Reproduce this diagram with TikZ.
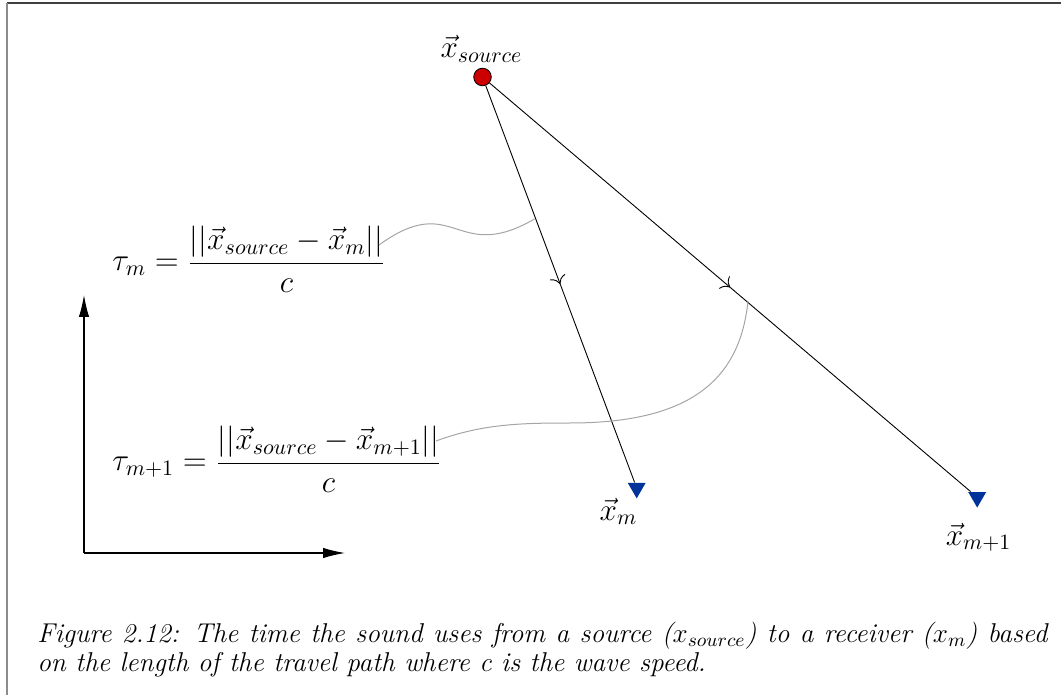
\documentclass[tikz,border=0pt]{standalone}
\usepackage{fix-cm}
\usetikzlibrary{arrows.meta,shapes.geometric,decorations.markings}
\definecolor{srcred}{RGB}{204,0,0}
\definecolor{recblue}{RGB}{0,51,153}
\definecolor{curvegray}{RGB}{165,165,165}
\tikzset{
  srcnode/.style={circle, draw=black, line width=0.4pt, fill=srcred, minimum size=8.8pt, inner sep=0pt},
  recnode/.style={regular polygon, regular polygon sides=3, shape border rotate=180, fill=recblue, minimum size=10.4pt, inner sep=0pt},
  ray/.style={draw=black, line width=0.45pt, postaction={decorate},
    decoration={markings, mark=at position 0.5 with {\arrow{To[scale=1.5]}}}},
  lead/.style={draw=curvegray, line width=0.5pt},
  axisline/.style={draw=black, line width=0.55pt, -{Latex[length=11pt,width=5.2pt]}},
  mathlbl/.style={inner sep=0pt, font=\fontsize{15.6}{18}\selectfont},
  eqtxt/.style={inner sep=0pt, anchor=base west, font=\fontsize{15.7}{18}\selectfont},
  captxt/.style={inner sep=0pt, anchor=base west, font=\fontsize{13.6}{16}\selectfont\itshape}
}
\begin{document}
\begin{tikzpicture}[x=0.5pt,y=-0.5pt]
\useasboundingbox (0,0) rectangle (1061,695);
% page frame
\draw[draw=black!75, line width=0.75pt] (7,3) -- (1061,3);
\draw[draw=black!45, line width=0.6pt] (7,3) -- (7,695);

% source and receivers
\node[srcnode] (src) at (482.5,77) {};
\node[recnode] (rm) at (636.7,488) {};
\node[recnode] (rm1) at (977.2,497.2) {};

\node[mathlbl, anchor=base] (lsrc) at (481.5,58) {$\vec{x}_{source}$};
\node[mathlbl, anchor=base] (lm) at (618.5,520) {$\vec{x}_m$};
\node[mathlbl, anchor=base] (lm1) at (978.5,545) {$\vec{x}_{m+1}$};

% rays
\draw[ray] (src) -- (rm);
\draw[ray] (src) -- (rm1);

% equations
\node[eqtxt] (eqm) at (112,271)
  {$\displaystyle \tau_m = \frac{||\vec{x}_{source}-\vec{x}_m||}{c}$};
\node[eqtxt] (eqm1) at (112,471)
  {$\displaystyle \tau_{m+1} = \frac{||\vec{x}_{source}-\vec{x}_{m+1}||}{c}$};

% leader curves
\coordinate (a1) at (379,245);
\coordinate (b1) at (534.5,219);
\coordinate (a2) at (436,441);
\coordinate (b2) at (748,301);
\draw[lead] (a1) .. controls (455,190) and (455,265) .. (b1);
\draw[lead] (a2) .. controls (482,424) and (520,423) .. (570,423)
  .. controls (690,423) and (740,380) .. (b2);

% axes
\coordinate (O) at (84,553);
\coordinate (Y) at (84,295);
\coordinate (X) at (345,553);
\draw[axisline] (O) -- (Y);
\draw[axisline] (O) -- (X);

% caption
\node[captxt] (cap1) at (37,642) {\makebox[505pt][s]{Figure 2.12: The time the sound uses from a source ($x_{source}$) to a receiver ($x_m$) based}};
\node[captxt] (cap2) at (37,671) {on the length of the travel path where c is the wave speed.};
\end{tikzpicture}
\end{document}
